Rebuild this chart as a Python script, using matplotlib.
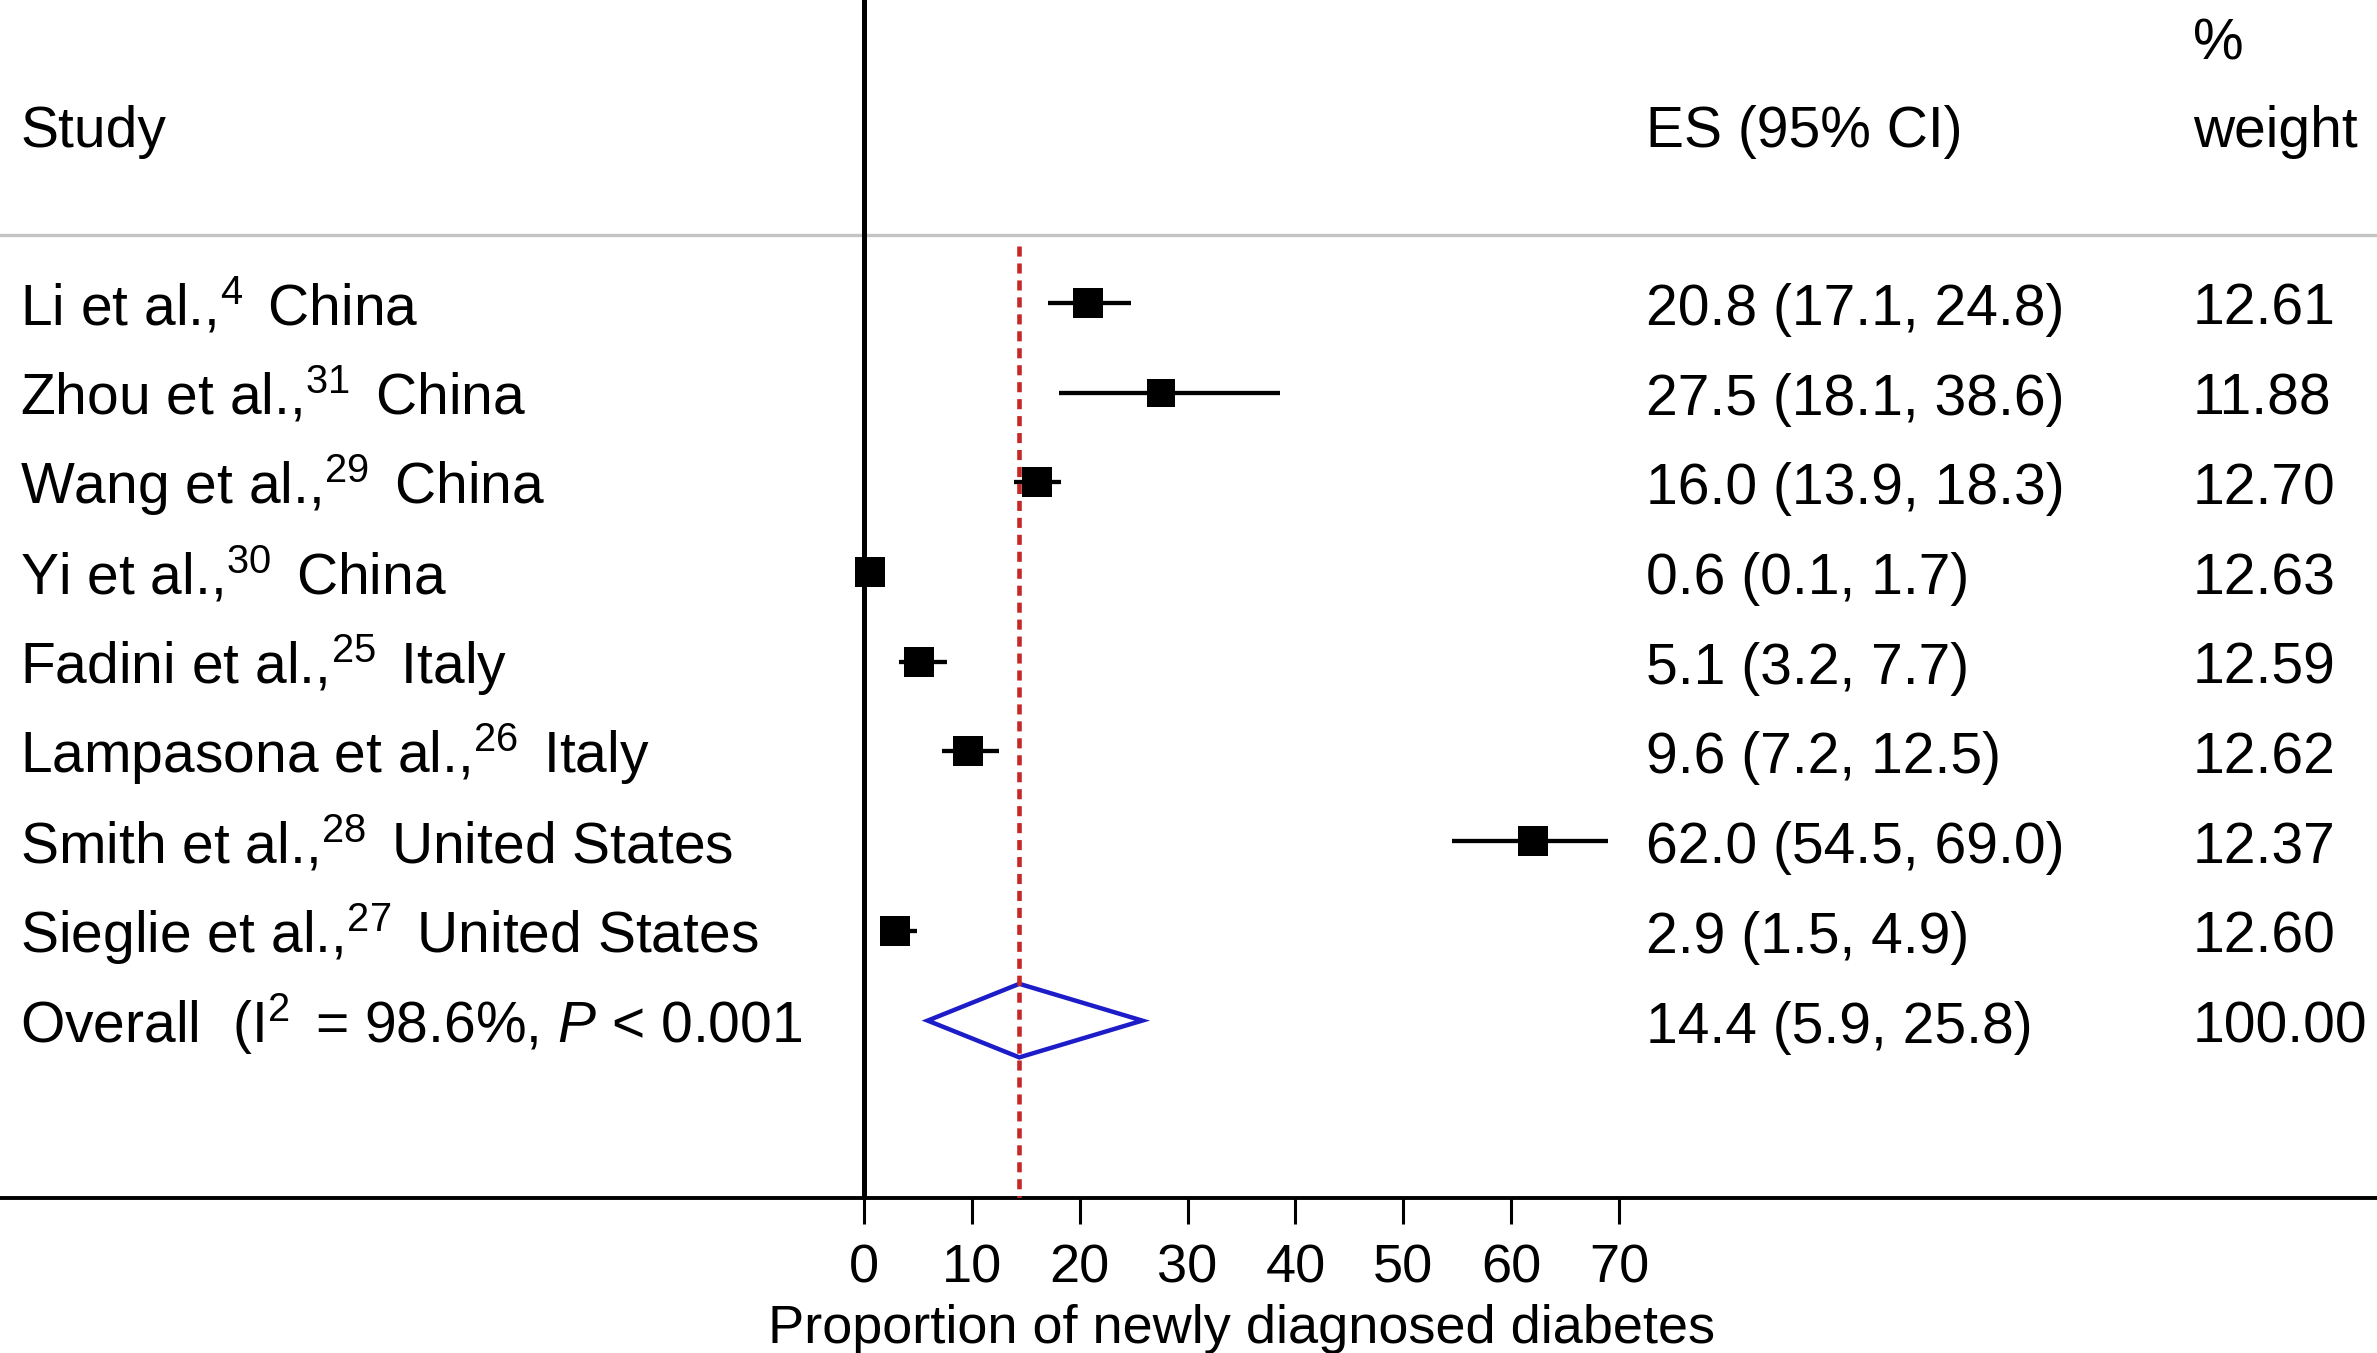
"""Forest plot: proportion of newly diagnosed diabetes."""

import numpy as np
import matplotlib
matplotlib.use("Agg")
import matplotlib.pyplot as plt
from matplotlib.patches import Polygon
from matplotlib.transforms import blended_transform_factory

# Data
authors = ["Li et al.", "Zhou et al.", "Wang et al.", "Yi et al.",
           "Fadini et al.", "Lampasona et al.", "Smith et al.",
           "Sieglie et al."]
refs = [4, 31, 29, 30, 25, 26, 28, 27]
countries = ["China", "China", "China", "China", "Italy", "Italy",
             "United States", "United States"]
es = [20.8, 27.5, 16.0, 0.6, 5.1, 9.6, 62.0, 2.9]
ci_low = [17.1, 18.1, 13.9, 0.1, 3.2, 7.2, 54.5, 1.5]
ci_high = [24.8, 38.6, 18.3, 1.7, 7.7, 12.5, 69.0, 4.9]
weights = [12.61, 11.88, 12.70, 12.63, 12.59, 12.62, 12.37, 12.60]

overall_es = 14.4
overall_low = 5.9
overall_high = 25.8
overall_weight = 100.00
i_squared = 98.6
p_text = "< 0.001"

x_ticks = [0, 10, 20, 30, 40, 50, 60, 70]

# Style
plt.rcParams["font.family"] = ["Liberation Sans", "DejaVu Sans"]
plt.rcParams["mathtext.fontset"] = "custom"
plt.rcParams["mathtext.rm"] = "Liberation Sans"
plt.rcParams["mathtext.it"] = "Liberation Sans:italic"
plt.rcParams["mathtext.bf"] = "Liberation Sans:bold"

fs = 41
tick_fs = 39

W, H = 2377, 1353
fig = plt.figure(figsize=(W / 100, H / 100), dpi=100)
ax = fig.add_axes([0, 155 / H, 1, 1198 / H])

# x: 0 at px 864, 10.786 px per unit ; y: rows 90 px apart, first at px 303
ax.set_xlim(-864 / 10.786, (W - 864) / 10.786)
ax.set_ylim(1 + (1198 - 303) / 89.7, 1 - 303 / 89.7)

n = len(es)
rows = np.arange(1, n + 1)
overall_row = n + 1

# Study markers and CIs
for y, e, lo, hi, w in zip(rows, es, ci_low, ci_high, weights):
    ax.plot([lo, hi], [y, y], color="black", lw=3.1, solid_capstyle="butt",
            zorder=3)
    ax.plot(e, y, marker="s", color="black", mec="black", mew=0,
            ms=21.5 * np.sqrt(w / max(weights)), zorder=4)

# Overall diamond
h = 0.41
diamond = Polygon([(overall_low, overall_row), (overall_es, overall_row - h),
                   (overall_high, overall_row), (overall_es, overall_row + h)],
                  closed=True, fill=False, edgecolor="#1c1cc8", lw=3.2,
                  joinstyle="miter", zorder=4)
ax.add_patch(diamond)

# Reference lines
ax.axvline(0, color="black", lw=3.6, zorder=2)
ax.plot([overall_es, overall_es], [0.36, ax.get_ylim()[0]], color="#c62828",
        lw=3.3, linestyle=(0, (2.2, 1.5)), zorder=5)
ax.axhline(0.24, color="#c4c4c4", lw=2.4, zorder=1)

# Axis
for side in ["top", "right", "left"]:
    ax.spines[side].set_visible(False)
ax.spines["bottom"].set_linewidth(2.8)
ax.set_yticks([])
ax.set_xticks(x_ticks)
ax.tick_params(axis="x", direction="out", length=18.5, width=2.2,
               labelsize=tick_fs, pad=14)

ax.text(35, -(1343 - 1198) / 1198, "Proportion of newly diagnosed diabetes",
        transform=blended_transform_factory(ax.transData, ax.transAxes),
        ha="center", va="baseline", fontsize=tick_fs)

# Text columns
tr = blended_transform_factory(ax.transAxes, ax.transData)
x_study, x_es, x_wt = 20 / W, 1646 / W, 2193 / W
base = 0.245

ax.text(x_study, -0.74, "Study", transform=tr, fontsize=fs, va="baseline")
ax.text(x_es, -0.74, "ES (95% CI)", transform=tr, fontsize=fs, va="baseline")
ax.text(x_wt, -0.74, "weight", transform=tr, fontsize=fs, va="baseline")
ax.text(x_wt, -1.72, "%", transform=tr, fontsize=fs, va="baseline")

for y, a, r, c, e, lo, hi, w in zip(rows, authors, refs, countries, es,
                                    ci_low, ci_high, weights):
    ax.text(x_study, y + base, f"{a},$^{{{r}}}\\,$ {c}", transform=tr,
            fontsize=fs, va="baseline")
    ax.text(x_es, y + base, f"{e:.1f} ({lo:.1f}, {hi:.1f})", transform=tr,
            fontsize=fs, va="baseline")
    ax.text(x_wt, y + base, f"{w:.2f}", transform=tr, fontsize=fs,
            va="baseline")

ax.text(x_study, overall_row + base,
        f"Overall  (I$^{{2}}\\,$ = {i_squared:.1f}%, $\\mathit{{P}}$ {p_text}",
        transform=tr, fontsize=fs, va="baseline")
ax.text(x_es, overall_row + base,
        f"{overall_es:.1f} ({overall_low:.1f}, {overall_high:.1f})",
        transform=tr, fontsize=fs, va="baseline")
ax.text(x_wt, overall_row + base, f"{overall_weight:.2f}", transform=tr,
        fontsize=fs, va="baseline")

fig.savefig("out.png", dpi=100, facecolor="white")
